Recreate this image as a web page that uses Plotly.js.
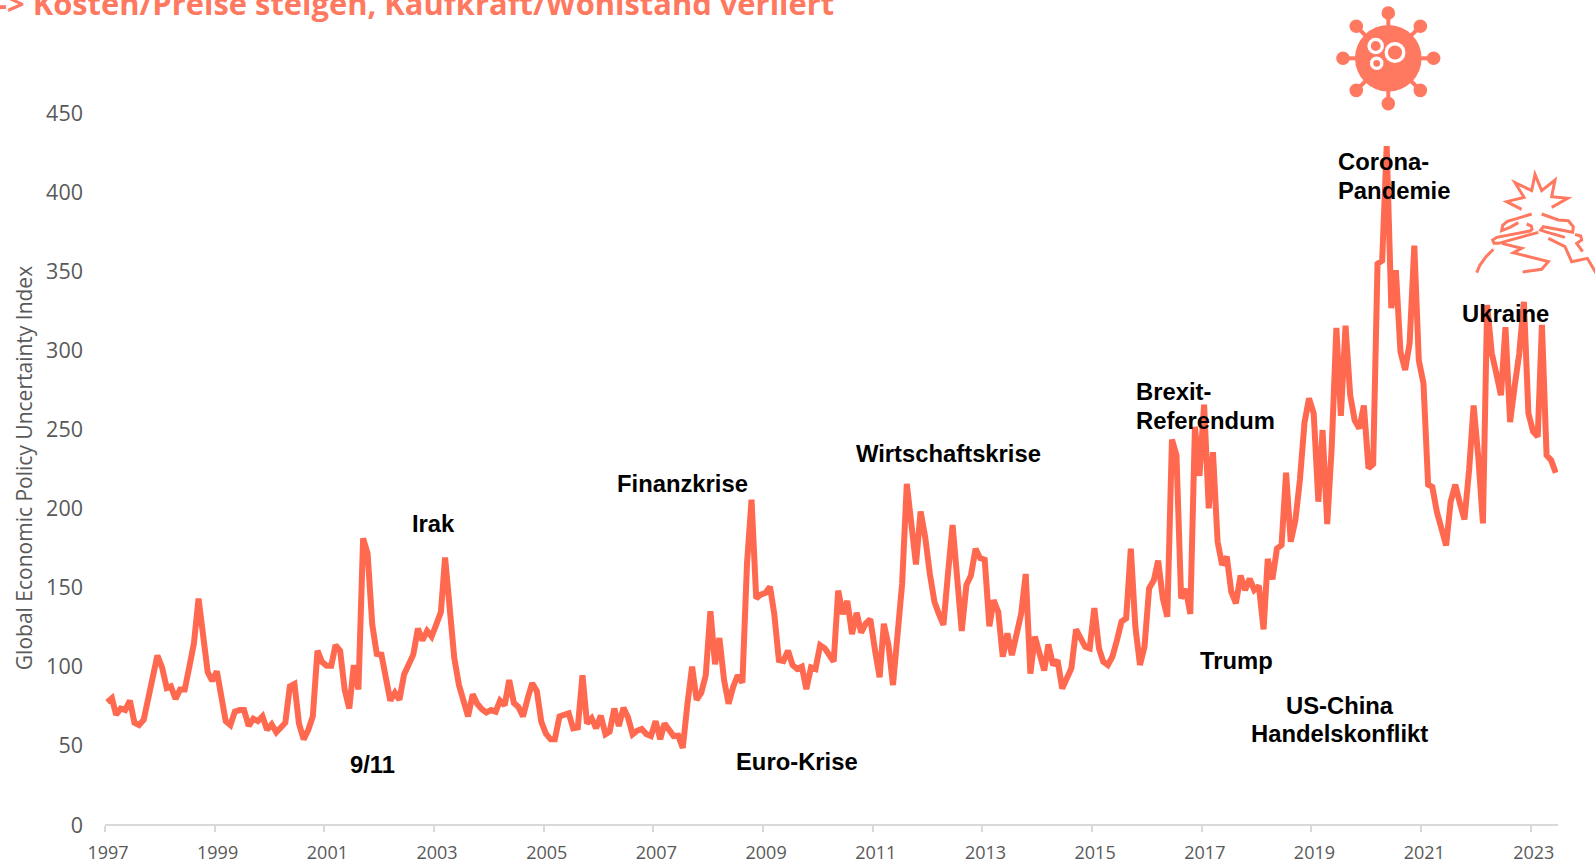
<!DOCTYPE html>
<html>
<head>
<meta charset="utf-8">
<script src="https://cdn.plot.ly/plotly-3.0.1.min.js"></script>
<style>html,body{margin:0;padding:0;background:#fff;overflow:hidden}#chart{width:1595px;height:863px}</style>
</head>
<body>
<div id="chart"></div>
<script>
// Global Economic Policy Uncertainty Index, monthly from January 1997
const startYear = 1997;
const values1997to2001 = [77,79.5,69,73,72,78,64,62.5,66,80,96,106.5,99,86,87,79,85,85,99,114,142.5,118,96,90.5,96.5,80,65,62.5,71,72,72,62,66.5,65,68,59.5,63,58,60.5,64,87,88.5,63.5,53.5,59.5,68,109.5,102.5,100,100,113,109.5];
const values2001to2005 = [85,73,100.5,85,180.5,171,126,107.5,107,89,78,83,78.5,94.5,100.5,107,123.5,116,122,118.5,126,134,168.5,133,105,88,78,68,82,76,72.5,70.5,72,71,78,75,91,76.5,74,68,79.5,89,84,64.5,57,53.5,53.5,68,69,70,60.5,61];
const values2005to2010 = [94,63.6,66.8,60.5,68.5,56.7,58.4,73,62,73.5,67.4,56.7,59,60,56.7,55.6,65,53.5,63.5,59.4,55.6,55.8,48,76,99.5,78.4,83,94,134.5,101,117.5,91,76,86.8,94,89.3,165,205,142.6,145,146,150,133,103.6,103,109.5,100.5,98,99.4,85.3,99,98];
const values2010to2014 = [113,111,106.8,102.6,147.5,132.7,141,120,133.5,121,126.8,129.5,110,92.7,126.5,113,87.8,120.5,152,215,190,164,197.5,181.6,158.4,140.5,133,125.8,158,189,156,122,151,157,174,168,167,125,141.5,134,105.7,120.5,106.8,118.4,133,158,95,118.5,109,97,113.5,100.5,103.5];
const values2014to2018 = [85.7,92,98.4,123,117.3,112,111,136.5,111,102.6,100.5,105.7,116.3,127.9,130,174,124.7,100.5,112,149,154,166.5,142.6,131,243,233,142.6,148.5,132.7,251,220,265,199.5,235,178.4,163.7,169,146.8,139.5,157,147.9,155,147.9,150.5,123,167.5,154.6,174,176.3,222,178.4,192,217.4];
const values2018to2023 = [254,269,259.5,203.7,249,189.6,238,313.5,258,315,271,255,250,264.5,224.8,227.5,354,356,428.5,326,350,298.5,287,304,365.5,293,278.5,214.5,213,197,188,176,203.7,214.5,202.6,192.5,223.7,264.5,232,190,328,297.5,284.8,271,314,254,277,297.5,330,259.5,248,244.8,315.5,233,230,222];

const seriesValues = [].concat(values1997to2001, values2001to2005, values2005to2010, values2010to2014, values2014to2018, values2018to2023);
const months = seriesValues.map((_, i) => {
  const y = startYear + Math.floor(i / 12);
  const m = String(i % 12 + 1).padStart(2, '0');
  return y + '-' + m + '-16';
});

const headline = '-&gt; Kosten/Preise steigen, Kaufkraft/Wohlstand verliert';
const yAxisLabel = 'Global Economic Policy Uncertainty Index';
const yTicks = [0,50,100,150,200,250,300,350,400,450];

const M = {l:105, r:37, t:112, b:39};
const W = 1595, H = 863;
const pw = W - M.l - M.r, ph = H - M.t - M.b;
const px = x => (x - M.l) / pw;
const py = y => (H - M.b - y) / ph;

const eventLabels = [
  ['Irak', 410, 523], ['9/11', 348, 764], ['Finanzkrise', 615, 483], ['Euro-Krise', 733.5, 761],
  ['Wirtschaftskrise', 853.5, 453], ['Brexit-', 1134, 391.5], ['Referendum', 1134, 420.5],
  ['Trump', 1197.5, 660], ['US-China', 1284, 705], ['Handelskonflikt', 1249, 733],
  ['Corona-', 1335.5, 161.5], ['Pandemie', 1335.5, 190], ['Ukraine', 1460, 313]
];

const annotations = eventLabels.map(([t, x, y]) => ({
  text: t, xref: 'paper', yref: 'paper', x: px(x), y: py(y), xanchor: 'left', yanchor: 'middle',
  showarrow: false, font: {family: 'Liberation Sans, Arial, sans-serif', size: 23.8, color: '#000', weight: 700}
}));
annotations.push({
  text: headline, xref: 'paper', yref: 'paper', x: px(836), y: py(2.5), xanchor: 'right', yanchor: 'middle',
  showarrow: false, font: {family: 'Open Sans, sans-serif', size: 30.9, color: '#FF7860', weight: 700}
});

// decorative icons
const coral = '#FF7860';
const shapes = [];
function circle(cx, cy, r, fill, lineColor, lw) {
  shapes.push({type: 'circle', xref: 'paper', yref: 'paper', x0: px(cx - r), x1: px(cx + r), y0: py(cy + r), y1: py(cy - r),
    fillcolor: fill, line: {color: lineColor || fill, width: lw || 0}, layer: 'above'});
}
function stroke(points, w, color) {
  const d = points.map((p, i) => (i ? 'L' : 'M') + px(p[0]).toFixed(5) + ',' + py(p[1]).toFixed(5)).join(' ');
  shapes.push({type: 'path', xref: 'paper', yref: 'paper', path: d, line: {color: color || coral, width: w}, layer: 'above'});
}
// virus
const vc = [1388.3, 58.3];
for (let a = 0; a < 8; a++) {
  const t = a * Math.PI / 4, dx = Math.cos(t), dy = Math.sin(t);
  stroke([[vc[0] + 30 * dx, vc[1] + 30 * dy], [vc[0] + 45 * dx, vc[1] + 45 * dy]], 4);
  circle(vc[0] + 45.3 * dx, vc[1] + 45.3 * dy, 6.8, coral);
}
circle(vc[0], vc[1], 33.3, coral);
circle(1395, 52.5, 8.8, coral, '#fff', 3.4);
circle(1375.7, 46, 6.6, coral, '#fff', 3.4);
circle(1376.7, 63.3, 5.1, coral, '#fff', 3.4);

// explosion with hands, coordinates measured as page pixels
const c = (x, y) => [1300 + x / 3, y / 3];
const iconStrokes = [
  [[665,628],[620,605],[672,592],[645,548],[695,572],[705,523],[725,572],[765,540],[755,590],[803,595],[755,622]],
  [[695,642],[650,656],[622,664],[608,676],[605,692],[630,682],[655,668]],
  [[680,672],[694,678],[696,688],[690,693],[590,712],[578,720],[582,730],[595,730],[715,697]],
  [[605,730],[665,745],[640,758],[745,785],[725,808],[668,816]],
  [[725,642],[775,660],[805,662],[820,680],[818,697],[730,680],[722,690],[735,695],[795,712]],
  [[745,715],[795,740],[815,785],[862,775],[890,822]],
  [[825,703],[842,708],[845,720],[830,730],[848,755]],
  [[530,818],[540,795],[558,770],[580,748]]
];
iconStrokes.forEach(s => stroke(s.map(p => c(p[0], p[1])), 3));

const trace = {
  type: 'scatter', mode: 'lines', x: months, y: seriesValues,
  line: {color: '#FF6950', width: 6, shape: 'linear'}, hoverinfo: 'x+y', cliponaxis: false
};

const layout = {
  width: W, height: H, margin: M, autosize: false, showlegend: false,
  paper_bgcolor: '#fff', plot_bgcolor: '#fff',
  xaxis: {
    type: 'date', range: ['1997-01-01', '2023-07-01'], tick0: '1997-01-01', dtick: 'M24', tickformat: '%Y',
    showgrid: false, zeroline: false, showline: true, linecolor: '#D9D9D9', linewidth: 2,
    ticks: 'outside', ticklen: 6, tickwidth: 1.5, tickcolor: '#D9D9D9', ticklabelshift: 3, ticklabelstandoff: 5,
    tickfont: {family: 'Open Sans, sans-serif', size: 18, color: '#595959'}
  },
  yaxis: {
    range: [0, 450], tickvals: yTicks, ticktext: yTicks.map(String),
    showgrid: false, zeroline: false, showline: false, ticks: '', ticklabelstandoff: 21, ticklabelshift: 1,
    tickfont: {family: 'Open Sans, sans-serif', size: 21.5, color: '#595959'},
    title: {text: yAxisLabel, standoff: 7, font: {family: 'Open Sans, sans-serif', size: 21, color: '#595959'}}
  },
  annotations: annotations, shapes: shapes
};

Plotly.newPlot('chart', [trace], layout, {displayModeBar: false, responsive: false});
</script>
</body>
</html>
